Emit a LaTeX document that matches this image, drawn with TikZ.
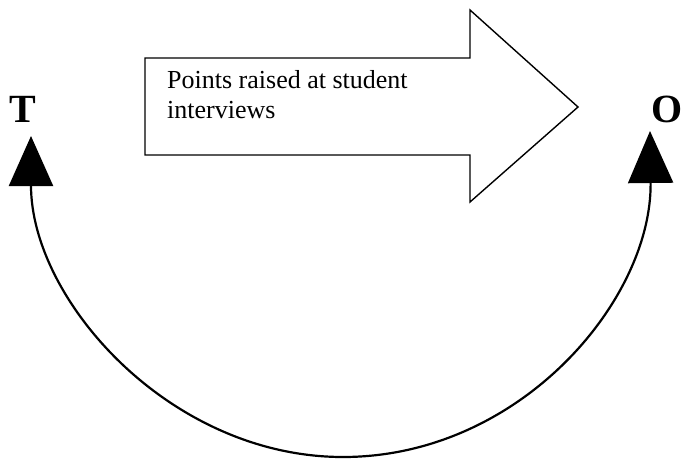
\documentclass[tikz,border=0pt]{standalone}
\usepackage{fontspec}
\setmainfont{Liberation Serif}
\usetikzlibrary{arrows.meta}
\tikzset{
  label/.style={inner sep=0pt, font=\fontsize{40}{44}\selectfont\bfseries},
  bigarrow/.style={draw=black, line width=1.4pt, line join=miter, fill=white},
  arctip/.style={line width=2.2pt, {Triangle[length=50pt,width=44pt]}-{Triangle[length=52pt,width=45pt]}}
}
\begin{document}
\begin{tikzpicture}[x=1pt,y=-1pt]
\useasboundingbox (0,0) rectangle (684,460);
% big outlined arrow
\draw[bigarrow] (145,58) -- (470,58) -- (470,10) -- (578,107) -- (470,202) -- (470,155) -- (145,155) -- cycle;
\node[inner sep=0pt, anchor=north west, align=left, font=\fontsize{26}{30}\selectfont] (txt) at (167,70) {Points raised at student\\interviews};
% labels
\node[label, anchor=base] (T) at (22.5,122) {T};
\node[label, anchor=base east] (O) at (683,122) {O};
% connector
\coordinate (tl) at (31,136);
\coordinate (bot) at (343,457);
\coordinate (tr) at (650,131);
\draw[arctip] (tl) .. controls (31,300) and (170,457) .. (bot) .. controls (520,457) and (652,300) .. (tr);
\end{tikzpicture}
\end{document}
